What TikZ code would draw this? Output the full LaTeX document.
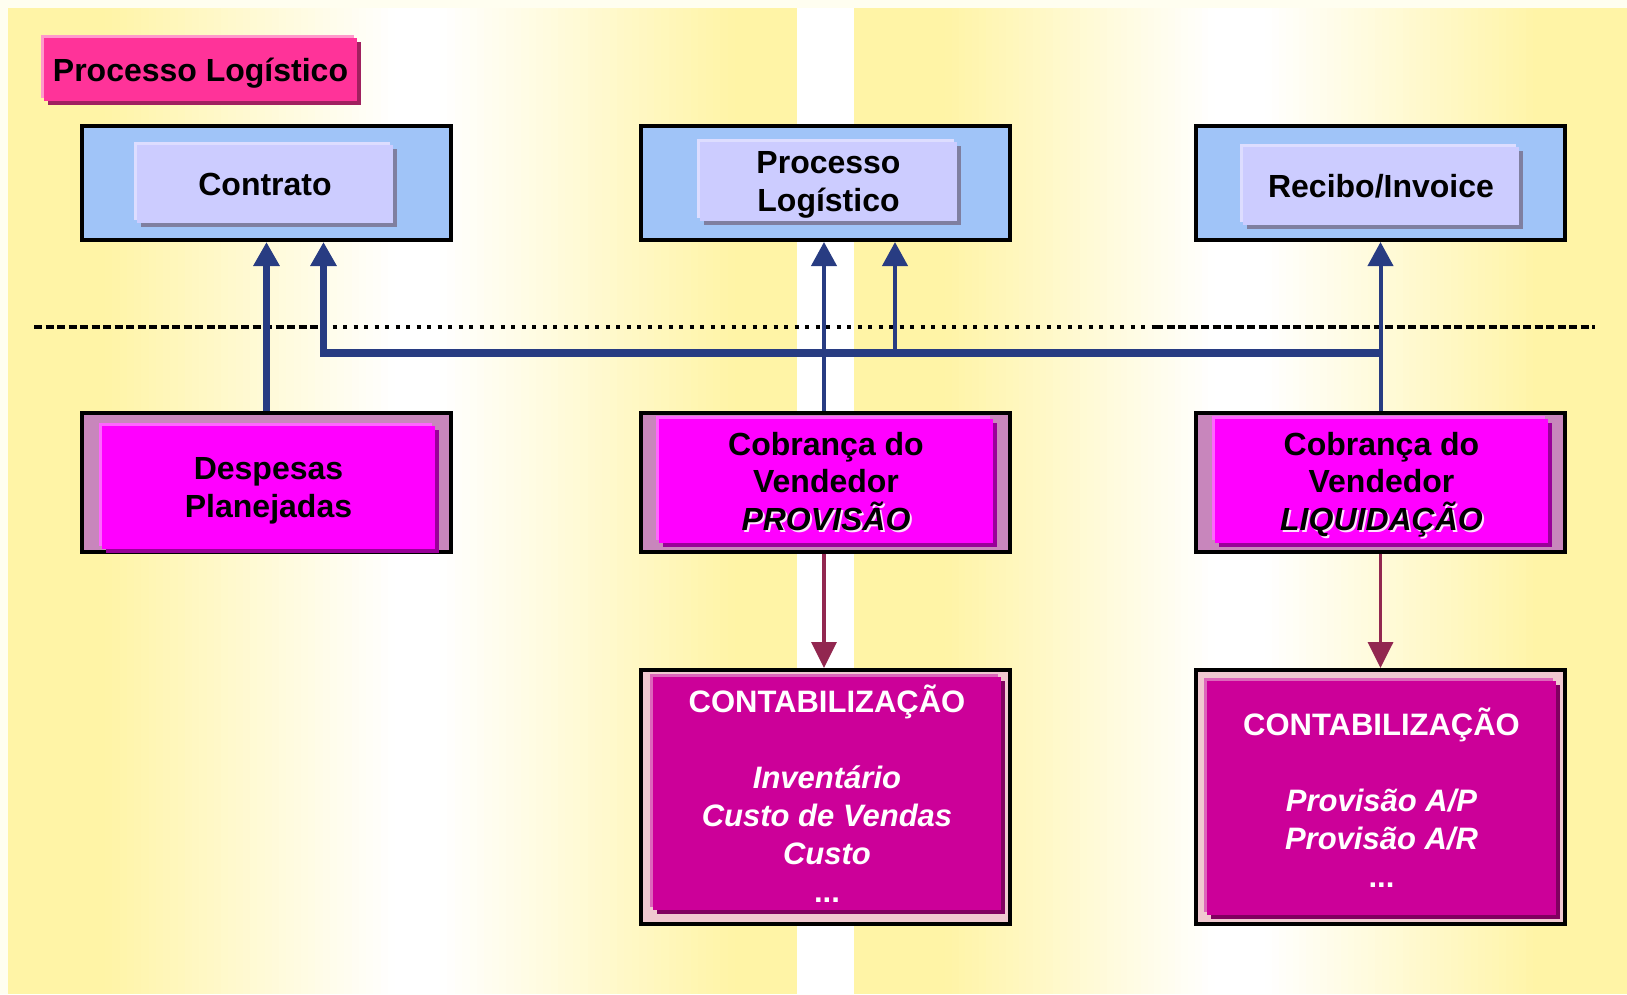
\documentclass[tikz,border=0pt]{standalone}
\usepackage{fontspec}
\setmainfont{Liberation Sans}
\usetikzlibrary{arrows.meta,shadows}

% palette
\definecolor{panelyellow}{HTML}{FFF4A6}
\definecolor{margincream}{HTML}{FFFEF0}
\definecolor{outerblue}{HTML}{A0C4F8}
\definecolor{innerblue}{HTML}{CCCCFF}
\definecolor{innerbluehi}{HTML}{DDDDFF}
\definecolor{innerblueshade}{HTML}{7F7FA0}
\definecolor{outermauve}{HTML}{C886BC}
\definecolor{magentabox}{HTML}{FF00FF}
\definecolor{magentahi}{HTML}{FF66FF}
\definecolor{magentashade}{HTML}{990099}
\definecolor{outerpink}{HTML}{F0C8D0}
\definecolor{plumbox}{HTML}{CC0099}
\definecolor{plumhi}{HTML}{DD66BB}
\definecolor{plumshade}{HTML}{800060}
\definecolor{titlepink}{HTML}{FF3399}
\definecolor{titlehi}{HTML}{FF99CC}
\definecolor{titleshade}{HTML}{A0205F}
\definecolor{linkblue}{HTML}{283C82}
\definecolor{linkred}{HTML}{922750}
\definecolor{glowpink}{HTML}{FFE0FF}

% italic caption with a soft light halo
\newcommand\glowword[1]{\makebox[0pt][l]{\hspace{2pt}\raisebox{-2pt}[0pt][0pt]{\color{glowpink}#1}}#1}

% vertical colour strips: #1 = left x, #2 = right x, #3 = yellow share at left, #4 = at right
\newcommand\gradband[4]{%
  \foreach \k in {0,...,39}{%
    \pgfmathsetmacro\xl{#1+(#2-#1)*\k/40}%
    \pgfmathsetmacro\xr{#1+(#2-#1)*(\k+1)/40+0.6}%
    \pgfmathsetmacro\pc{#3+(#4-#3)*(\k+0.5)/40}%
    \fill[panelyellow!\pc!white] (\xl,8) rectangle (\xr,994);
  }}

\tikzset{
  raised/.style n args={3}{fill=#1,
    general shadow={fill=#2, shadow xshift=-3pt, shadow yshift=3pt},
    general shadow={fill=#3, shadow xshift=4pt, shadow yshift=-4pt}},
  frame/.style={draw=black, line width=4pt, fill=#1, minimum width=369pt, inner sep=0pt},
  boxtext/.style={font=\bfseries\fontsize{32}{37.5}\selectfont, align=center, inner sep=0pt, text depth=0pt},
  acctext/.style={font=\bfseries\fontsize{31}{38}\selectfont, align=center, inner sep=0pt, text=white},
  thickblue/.style={draw=linkblue, line width=7.5pt, line join=miter, -{Triangle[width=25pt,length=24pt]}},
  thinblue/.style={draw=linkblue, line width=4pt, -{Triangle[width=25pt,length=24pt]}},
  redlink/.style={draw=linkred, line width=3.5pt, -{Triangle[width=25pt,length=26pt]}},
  guide/.style={draw=black, line width=4pt},
  dashpart/.style={guide, dash pattern=on 8pt off 3.5pt},
  dotpart/.style={guide, dash pattern=on 4pt off 6.5pt},
}

\begin{document}
\begin{tikzpicture}[x=1pt,y=-1pt]
\useasboundingbox (0,0) rectangle (1627,994);

% background: two panels, yellow at the sides and white in the middle
\fill[margincream] (0,0) rectangle (1627,994);
\fill[panelyellow] (8,8) rectangle (106,994);
\gradband{105}{395}{100}{0}
\fill[white] (395,8) rectangle (441,994);
\gradband{440}{735}{0}{100}
\fill[panelyellow] (735,8) rectangle (797,994);
\fill[white] (797,8) rectangle (854,994);
\fill[panelyellow] (854,8) rectangle (946,994);
\gradband{945}{1215}{100}{0}
\fill[white] (1215,8) rectangle (1266,994);
\gradband{1265}{1540}{0}{100}
\fill[panelyellow] (1540,8) rectangle (1627,994);

% separator line: dashed, dotted, dashed
\coordinate (gA) at (34,327);
\coordinate (gB) at (322,327);
\coordinate (gC) at (1155,327);
\coordinate (gD) at (1595,327);
\draw[dashpart] (gA) -- (gB);
\draw[dotpart] (gB) -- (gC);
\draw[dashpart] (gC) -- (gD);

% heading
\node[raised={titlepink}{titlehi}{titleshade}, minimum width=313pt, minimum height=63pt,
      boxtext] (heading) at (200.5,69.5) {Processo Logístico};

% top row
\node[frame=outerblue, minimum height=114pt] (contrato) at (266,183) {};
\node[frame=outerblue, minimum height=114pt] (proc) at (825.5,183) {};
\node[frame=outerblue, minimum height=114pt] (recibo) at (1380.5,183) {};
\node[raised={innerblue}{innerbluehi}{innerblueshade}, minimum width=256pt, minimum height=78pt, boxtext]
  (contratoIn) at (265,184) {Contrato};
\node[raised={innerblue}{innerbluehi}{innerblueshade}, minimum width=257pt, minimum height=79pt, boxtext]
  (procIn) at (828.5,181.5) {Processo\\Logístico};
\node[raised={innerblue}{innerbluehi}{innerblueshade}, minimum width=276pt, minimum height=78pt, boxtext]
  (reciboIn) at (1381,186) {Recibo/Invoice};

% middle row
\node[frame=outermauve, minimum height=139pt] (desp) at (266.5,482) {};
\node[frame=outermauve, minimum height=139pt] (prov) at (825.5,482) {};
\node[frame=outermauve, minimum height=139pt] (liq) at (1380.5,482) {};
\node[raised={magentabox}{magentahi}{magentashade}, minimum width=333pt, minimum height=123pt, boxtext]
  (despIn) at (268.5,487.5) {Despesas\\Planejadas};
\node[raised={magentabox}{magentahi}{magentashade}, minimum width=334pt, minimum height=124pt, boxtext]
  (provIn) at (826,481) {Cobrança do\\Vendedor\\\glowword{\itshape PROVISÃO}};
\node[raised={magentabox}{magentahi}{magentashade}, minimum width=333pt, minimum height=124pt, boxtext]
  (liqIn) at (1381.5,481) {Cobrança do\\Vendedor\\\glowword{\itshape LIQUIDAÇÃO}};

% bottom row
\node[frame=outerpink, minimum height=254pt] (contab1) at (825.5,797) {};
\node[frame=outerpink, minimum height=254pt] (contab2) at (1380.5,797) {};
\node[raised={plumbox}{plumhi}{plumshade}, minimum width=348pt, minimum height=233pt, acctext]
  (contab1In) at (827,793.5) {CONTABILIZAÇÃO\\[38pt]\itshape Inventário\\\itshape Custo de Vendas\\\itshape Custo\\...};
\node[raised={plumbox}{plumhi}{plumshade}, minimum width=349pt, minimum height=234pt, acctext]
  (contab2In) at (1381.5,798) {CONTABILIZAÇÃO\\[38pt]\itshape Provisão A/P\\\itshape Provisão A/R\\...};

% connectors
\coordinate (bus) at (0,353);
\coordinate (j1) at (323.5,353);
\coordinate (j2) at (895,353);
\coordinate (j3) at (liq.north |- bus);

\draw[thickblue] (desp.north) -- (desp.north |- contrato.south);
\draw[thickblue] (j3) -- (j1) -- (j1 |- contrato.south);
\draw[thinblue] (j2) -- (j2 |- proc.south);
\draw[thinblue] ([xshift=-1.5pt]prov.north) -- ([xshift=-1.5pt]proc.south);
\draw[thinblue] (liq.north) -- (recibo.south);
\draw[redlink] ([xshift=-1.5pt]prov.south) -- ([xshift=-1.5pt]contab1.north);
\draw[redlink] (liq.south) -- (contab2.north);
\end{tikzpicture}
\end{document}
